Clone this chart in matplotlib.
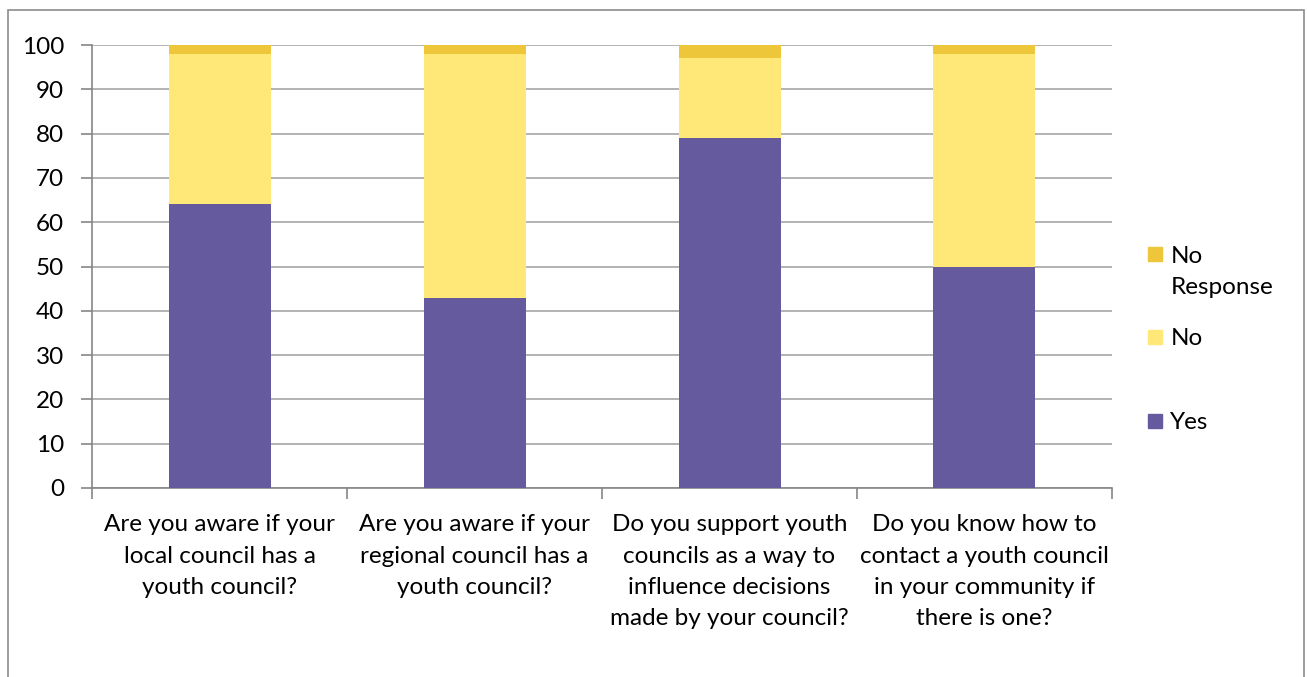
import numpy as np
import matplotlib.pyplot as plt
from matplotlib.patches import Rectangle

# ── Data ──────────────────────────────────────────────────────────────────────
questions = [
    "Are you aware if your\nlocal council has a\nyouth council?",
    "Are you aware if your\nregional council has a\nyouth council?",
    "Do you support youth\ncouncils as a way to\ninfluence decisions\nmade by your council?",
    "Do you know how to\ncontact a youth council\nin your community if\nthere is one?",
]
yes_vals = [64, 43, 79, 50]
no_vals = [34, 55, 18, 48]
noresp_vals = [2, 2, 3, 2]

series_names = ["Yes", "No", "No\nResponse"]
colors = ["#665A9F", "#FFE878", "#EDC63A"]

FS = 17.5
LS = 1.6
plt.rcParams.update({
    "font.family": ["Lato", "DejaVu Sans"],
    "font.size": FS,
})

fig = plt.figure(figsize=(13.07, 6.77), dpi=100)
ax = fig.add_axes([0.0704, 0.2792, 0.7804, 0.6543])

# outer chart frame
fig.add_artist(Rectangle((0.006, -0.02), 0.9917, 1.005, transform=fig.transFigure,
                         fill=False, edgecolor="#8C8C8C", linewidth=1.2))

x = np.arange(len(questions))
width = 0.4
bottom = np.zeros(len(questions))
for vals, name, col in zip([yes_vals, no_vals, noresp_vals], series_names, colors):
    ax.bar(x, vals, width, bottom=bottom, color=col, label=name, zorder=3)
    bottom += np.array(vals)

ax.set_xlim(-0.5, len(questions) - 0.5)
ax.set_ylim(0, 100)
ax.set_yticks(np.arange(0, 101, 10))
ax.yaxis.grid(True, color="#A6A6A6", linewidth=1.2, zorder=0)

ax.set_xticks(x)
ax.set_xticklabels(questions, linespacing=LS)
ax.set_xticks(np.arange(-0.5, len(questions)), minor=True)
ax.tick_params(axis="x", which="major", length=0, pad=19)
ax.tick_params(axis="x", which="minor", length=8, color="#868686", width=1.2)
ax.tick_params(axis="y", length=8, color="#868686", width=1.2, pad=12)

for side in ["top", "right"]:
    ax.spines[side].set_visible(False)
for side in ["left", "bottom"]:
    ax.spines[side].set_color("#868686")
    ax.spines[side].set_linewidth(1.2)

# legend, Excel style (top entry = last series)
leg_y = [0.625, 0.503, 0.379]
for name, col, yy in zip(series_names[::-1], colors[::-1], leg_y):
    fig.add_artist(Rectangle((0.8785, yy - 0.011), 0.0107, 0.0207,
                             transform=fig.transFigure, color=col))
    fig.text(0.8955, yy + 0.012, name, ha="left", va="top", fontsize=FS,
             linespacing=LS)

fig.savefig("out.png", dpi=100)
